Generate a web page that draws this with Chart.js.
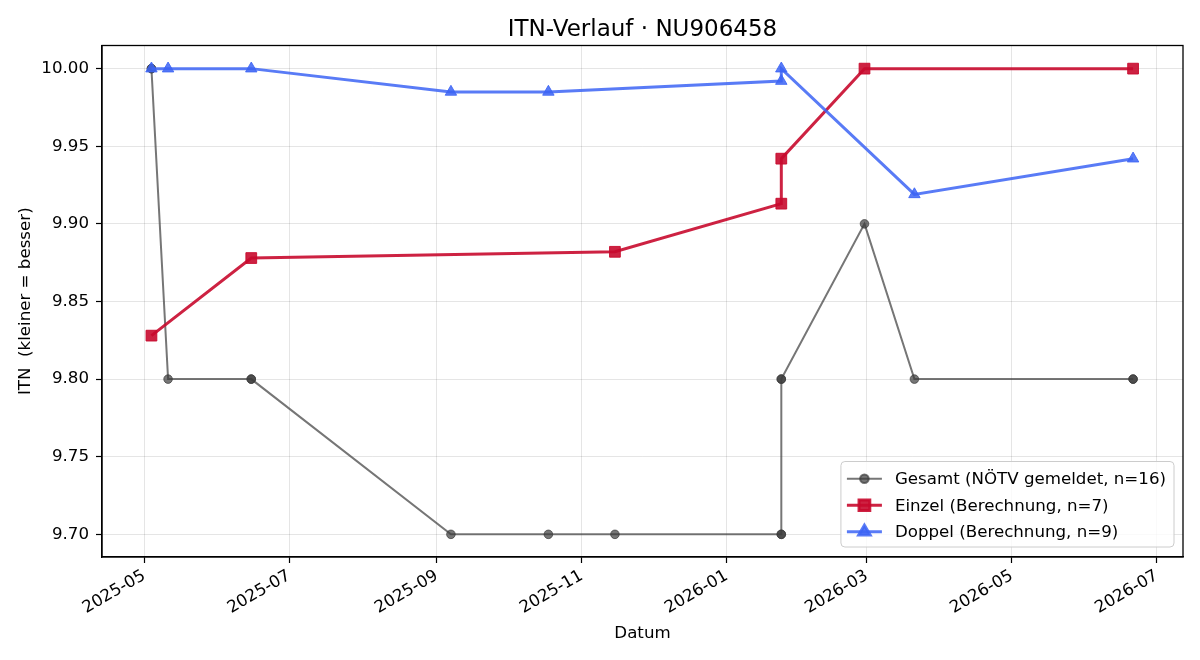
<!DOCTYPE html>
<html><head><meta charset="utf-8">
<script src="https://cdn.jsdelivr.net/npm/chart.js@4.4.1/dist/chart.umd.min.js"></script>
<style>html,body{margin:0;padding:0;background:#fff}canvas{display:block}</style>
</head><body>
<canvas id="c" width="1200" height="660"></canvas>
<script>
// ---- data ----
const chartTitle   = 'ITN-Verlauf · NU906458';
const gesamtDates  = ['2025-05-04','2025-05-04','2025-05-11','2025-06-15','2025-06-15','2025-09-07','2025-10-18','2025-11-15','2026-01-24','2026-01-24','2026-01-24','2026-01-24','2026-02-28','2026-03-21','2026-06-21','2026-06-21'];
const gesamtValues = [10.00, 10.00, 9.80, 9.80, 9.80, 9.70, 9.70, 9.70, 9.70, 9.70, 9.80, 9.80, 9.90, 9.80, 9.80, 9.80];
const einzelDates  = ['2025-05-04','2025-06-15','2025-11-15','2026-01-24','2026-01-24','2026-02-28','2026-06-21'];
const einzelValues = [9.828, 9.878, 9.882, 9.913, 9.942, 10.00, 10.00];
const doppelDates  = ['2025-05-04','2025-05-11','2025-06-15','2025-09-07','2025-10-18','2026-01-24','2026-01-24','2026-03-21','2026-06-21'];
const doppelValues = [10.00, 10.00, 10.00, 9.985, 9.985, 9.992, 10.00, 9.919, 9.942];
const xTickLabels  = ['2025-05','2025-07','2025-09','2025-11','2026-01','2026-03','2026-05','2026-07'];
const yTickValues  = [9.70, 9.75, 9.80, 9.85, 9.90, 9.95, 10.00];
const seriesLabels = ['Gesamt (NÖTV gemeldet, n=16)','Einzel (Berechnung, n=7)','Doppel (Berechnung, n=9)'];

// ---- helpers ----
const DAY = 86400000;
const toDay = s => { const p = s.split('-').map(Number); return Date.UTC(p[0], p[1]-1, p[2]||1) / DAY; };
const pts = (dates, vals) => dates.map((d,i) => ({x: toDay(d), y: vals[i]}));
const origin = toDay('2025-05-01');

const FONT = "'DejaVu Sans', sans-serif";
Chart.defaults.font.family = FONT;
Chart.defaults.font.size = 16.67;
Chart.defaults.color = '#000';

const GRAY = 'rgba(60,60,60,0.7)';
const RED = 'rgba(200,10,45,0.9)';
const BLUE = 'rgba(60,100,245,0.85)';

const framePlugin = {
  id: 'frame',
  afterDatasetsDraw(chart) {
    const {ctx, chartArea: a} = chart;
    ctx.save();
    ctx.strokeStyle = '#000';
    ctx.lineWidth = 1.3;
    ctx.strokeRect(a.left, a.top, a.right - a.left, a.bottom - a.top);
    ctx.restore();
  }
};

const titlePlugin = {
  id: 'axesTitle',
  afterDraw(chart) {
    const {ctx, chartArea: a} = chart;
    ctx.save();
    ctx.font = "23px " + FONT;
    ctx.fillStyle = '#000';
    ctx.textAlign = 'center';
    ctx.textBaseline = 'alphabetic';
    ctx.fillText(chartTitle, (a.left + a.right) / 2, a.top - 9.5);
    ctx.restore();
  }
};

const legendPlugin = {
  id: 'innerLegend',
  afterDraw(chart) {
    const {ctx, chartArea: a} = chart;
    const ds = chart.data.datasets;
    ctx.save();
    ctx.font = "16.67px " + FONT;
    let tw = 0;
    ds.forEach(d => { tw = Math.max(tw, ctx.measureText(d.label).width); });
    const rowH = 26.5, padX = 6, lineLen = 35, gap = 13;
    const w = padX + lineLen + gap + tw + 8;
    const h = rowH * ds.length + 6;
    const x0 = a.right - 9 - w, y0 = a.bottom - 10 - h;
    const r = 4;
    ctx.beginPath();
    ctx.moveTo(x0 + r, y0);
    ctx.arcTo(x0 + w, y0, x0 + w, y0 + h, r);
    ctx.arcTo(x0 + w, y0 + h, x0, y0 + h, r);
    ctx.arcTo(x0, y0 + h, x0, y0, r);
    ctx.arcTo(x0, y0, x0 + w, y0, r);
    ctx.closePath();
    ctx.fillStyle = 'rgba(255,255,255,0.8)';
    ctx.fill();
    ctx.strokeStyle = '#cccccc';
    ctx.lineWidth = 1;
    ctx.stroke();
    ds.forEach((d, i) => {
      const cy = y0 + 4 + rowH * i + rowH / 2;
      const lx = x0 + padX;
      ctx.beginPath();
      ctx.moveTo(lx, cy); ctx.lineTo(lx + lineLen, cy);
      ctx.strokeStyle = d.borderColor; ctx.lineWidth = d.borderWidth;
      ctx.stroke();
      ctx.fillStyle = d.pointBackgroundColor; ctx.strokeStyle = d.pointBorderColor;
      Chart.helpers.drawPoint(ctx, {pointStyle: d.pointStyle, radius: d.pointRadius, rotation: 0, borderWidth: 1}, lx + lineLen / 2, cy);
      ctx.fillStyle = '#000';
      ctx.textBaseline = 'middle';
      ctx.textAlign = 'left';
      ctx.fillText(d.label, lx + lineLen + gap, cy + 1);
    });
    ctx.restore();
  }
};

new Chart(document.getElementById('c'), {
  type: 'line',
  data: {
    datasets: [
      {label: seriesLabels[0], data: pts(gesamtDates, gesamtValues), borderColor: GRAY, borderWidth: 2,
       pointStyle: 'circle', pointRadius: 4.3, pointBackgroundColor: GRAY, pointBorderColor: GRAY, pointBorderWidth: 1, order: 3},
      {label: seriesLabels[1], data: pts(einzelDates, einzelValues), borderColor: RED, borderWidth: 3,
       pointStyle: 'rect', pointRadius: 7.6, pointBackgroundColor: RED, pointBorderColor: RED, pointBorderWidth: 1, order: 2},
      {label: seriesLabels[2], data: pts(doppelDates, doppelValues), borderColor: BLUE, borderWidth: 3,
       pointStyle: 'triangle', pointRadius: 6.6, pointBackgroundColor: BLUE, pointBorderColor: BLUE, pointBorderWidth: 1, order: 1}
    ]
  },
  options: {
    responsive: false,
    animation: false,
    events: [],
    layout: {padding: {left: 8, right: 17, top: 45.5, bottom: 6}},
    elements: {line: {tension: 0, fill: false}},
    plugins: {
      legend: {display: false},
      tooltip: {enabled: false},
      title: {display: false}
    },
    scales: {
      x: {
        type: 'linear',
        min: origin - 17.8,
        max: origin + 437.0,
        afterFit: s => { s.height = 97; },
        afterBuildTicks: s => { s.ticks = xTickLabels.map(l => ({value: toDay(l)})); },
        ticks: {
          autoSkip: false, maxRotation: 30, minRotation: 30, padding: 3,
          callback: (v, i) => xTickLabels[i]
        },
        grid: {color: 'rgba(0,0,0,0.1)', lineWidth: 1, tickColor: '#000', tickLength: 6, tickWidth: 1.2},
        border: {color: '#000', width: 1.3},
        title: {display: true, text: 'Datum', padding: {top: 0, bottom: 10}}
      },
      y: {
        type: 'linear',
        min: 9.6854,
        max: 10.0149,
        afterFit: s => { s.width = 94; },
        afterBuildTicks: s => { s.ticks = yTickValues.map(v => ({value: v})); },
        ticks: {padding: 7, callback: v => Number(v).toFixed(2)},
        grid: {color: 'rgba(0,0,0,0.1)', lineWidth: 1, tickColor: '#000', tickLength: 6, tickWidth: 1.2},
        border: {color: '#000', width: 1.3},
        title: {display: true, text: 'ITN  (kleiner = besser)', padding: {top: 8, bottom: 0}}
      }
    }
  },
  plugins: [framePlugin, titlePlugin, legendPlugin]
});
</script>
</body></html>
